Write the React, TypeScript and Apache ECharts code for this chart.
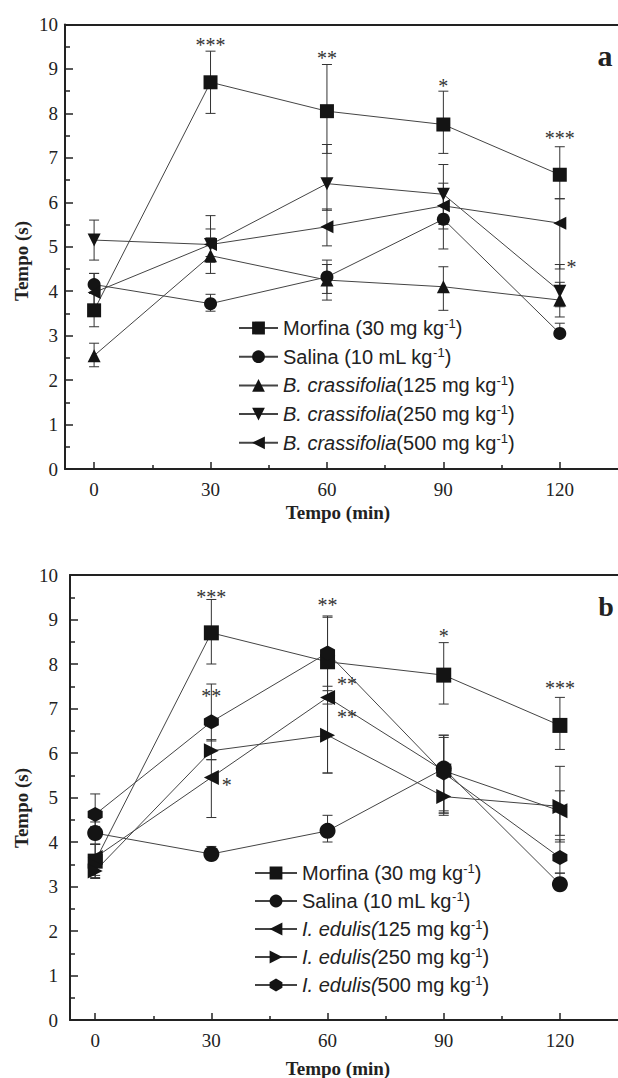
import React, { useEffect, useRef } from 'react';
import * as echarts from 'echarts';

// ---- data ----
const times = [0, 30, 60, 90, 120];
const xTickValues = [0, 30, 60, 90, 120];
const xMinorValues = [15, 45, 75, 105];

// Panel a (B. crassifolia)
const aMorfina = [3.57, 8.7, 8.05, 7.75, 6.62];
const aMorfinaLo = [3.2, 8.0, 7.1, 7.1, 6.08];
const aMorfinaHi = [3.95, 9.4, 9.1, 8.5, 7.25];
const aSalina = [4.15, 3.72, 4.32, 5.62, 3.05];
const aSalinaLo = [3.95, 3.55, 3.8, 4.95, 3.05];
const aSalinaHi = [4.4, 3.93, 4.7, 6.3, 3.28];
const aB125 = [2.55, 4.8, 4.25, 4.1, 3.8];
const aB125Lo = [2.3, 4.4, 3.95, 3.57, 3.42];
const aB125Hi = [2.83, 5.2, 4.6, 4.55, 4.2];
const aB250 = [5.15, 5.05, 6.42, 6.18, 4.0];
const aB250Lo = [4.7, 4.65, 5.82, 5.4, 3.65];
const aB250Hi = [5.6, 5.7, 7.3, 6.85, 4.6];
const aB500 = [3.97, 5.05, 5.45, 5.92, 5.53];
const aB500Lo = [3.7, 4.78, 5.02, 5.5, 4.5];
const aB500Hi = [4.4, 5.4, 5.85, 6.43, 6.08];

// Panel b (I. edulis)
const bMorfina = [3.57, 8.7, 8.05, 7.75, 6.62];
const bMorfinaLo = [3.2, 8.0, 7.1, 7.1, 6.08];
const bMorfinaHi = [3.95, 9.45, 9.08, 8.48, 7.25];
const bSalina = [4.2, 3.73, 4.25, 5.65, 3.05];
const bSalinaLo = [3.95, 3.6, 4.0, 4.65, 3.05];
const bSalinaHi = [4.45, 3.9, 4.6, 6.4, 3.3];
const bI125 = [3.65, 5.45, 7.25, 5.6, 4.7];
const bI125Lo = [3.25, 4.55, 5.55, 4.65, 4.0];
const bI125Hi = [3.95, 5.85, 8.1, 6.35, 5.15];
const bI250 = [3.35, 6.05, 6.4, 5.02, 4.8];
const bI250Lo = [3.18, 5.85, 5.55, 4.6, 4.15];
const bI250Hi = [3.6, 6.3, 7.5, 5.6, 5.7];
const bI500 = [4.62, 6.7, 8.25, 5.55, 3.65];
const bI500Lo = [4.35, 6.27, 7.4, 4.7, 3.3];
const bI500Hi = [5.08, 7.55, 9.05, 6.4, 4.05];

// significance marks [time, value]
const sigAPos = [[30, 9.55], [60, 9.25], [90, 8.62], [120, 7.45], [123, 4.55]];
const sigAText = ['***', '**', '*', '***', '*'];
const sigBPos = [[30, 9.5], [60, 9.33], [90, 8.62], [120, 7.45], [30, 7.27], [34, 5.28], [65, 7.55], [65, 6.8]];
const sigBText = ['***', '**', '*', '***', '**', '*', '**', '**'];

// legend labels
const legendA = [
  { it: '', rest: 'Morfina (30 mg kg' },
  { it: '', rest: 'Salina (10 mL kg' },
  { it: 'B. crassifolia', rest: '(125 mg kg' },
  { it: 'B. crassifolia', rest: '(250 mg kg' },
  { it: 'B. crassifolia', rest: '(500 mg kg' },
];
const legendB = [
  { it: '', rest: 'Morfina (30 mg kg' },
  { it: '', rest: 'Salina (10 mL kg' },
  { it: 'I. edulis(', rest: '125 mg kg' },
  { it: 'I. edulis(', rest: '250 mg kg' },
  { it: 'I. edulis(', rest: '500 mg kg' },
];

const SYM_TRI_DOWN = 'path://M0,0L10,0L5,10Z';
const SYM_TRI_LEFT = 'path://M10,0L10,10L0,5Z';
const SYM_TRI_RIGHT = 'path://M0,0L0,10L10,5Z';
const SYM_HEX = 'path://M5,0L10,2.8L10,7.2L5,10L0,7.2L0,2.8Z';

const labelName = (l: { it: string; rest: string }) => l.it + l.rest + '-1)';

function lineSeries(name: string, vals: number[], symbol: string, size: number, xi: number, yi: number) {
  return {
    type: 'line',
    name,
    xAxisIndex: xi,
    yAxisIndex: yi,
    data: times.map((t, i) => [t, vals[i]]),
    symbol,
    symbolSize: size,
    showSymbol: true,
    lineStyle: { color: '#444', width: 1 },
    itemStyle: { color: '#141414' },
    z: 4,
    silent: true,
  };
}

function errSeries(lo: number[], hi: number[], xi: number, yi: number) {
  return {
    type: 'custom',
    xAxisIndex: xi,
    yAxisIndex: yi,
    data: times.map((t, i) => [t, lo[i], hi[i]]),
    silent: true,
    z: 2,
    renderItem: (params: any, api: any) => {
      const x = api.value(0);
      const pl = api.coord([x, api.value(1)]);
      const ph = api.coord([x, api.value(2)]);
      const w = 5;
      const st = { stroke: '#333', lineWidth: 1 };
      return {
        type: 'group',
        children: [
          { type: 'line', shape: { x1: pl[0], y1: pl[1], x2: ph[0], y2: ph[1] }, style: st },
          { type: 'line', shape: { x1: ph[0] - w, y1: ph[1], x2: ph[0] + w, y2: ph[1] }, style: st },
          { type: 'line', shape: { x1: pl[0] - w, y1: pl[1], x2: pl[0] + w, y2: pl[1] }, style: st },
        ],
      };
    },
  };
}

function sigSeries(pos: number[][], texts: string[], xi: number, yi: number) {
  return {
    type: 'custom',
    xAxisIndex: xi,
    yAxisIndex: yi,
    data: pos,
    silent: true,
    z: 5,
    renderItem: (params: any, api: any) => {
      const p = api.coord([api.value(0), api.value(1)]);
      return {
        type: 'text',
        x: p[0],
        y: p[1],
        style: {
          text: texts[params.dataIndex],
          fontSize: 20,
          fontFamily: '"Liberation Serif", serif',
          fill: '#333',
          align: 'center',
          verticalAlign: 'middle',
          textAlign: 'center',
          textVerticalAlign: 'middle',
        },
      };
    },
  };
}

const rich = {
  n: { fontSize: 20, fontFamily: '"Liberation Sans", Arial, sans-serif', color: '#222', lineHeight: 22 },
  i: { fontSize: 20, fontStyle: 'italic', fontFamily: '"Liberation Sans", Arial, sans-serif', color: '#222', lineHeight: 22 },
  s: { fontSize: 13, fontFamily: '"Liberation Sans", Arial, sans-serif', color: '#222', lineHeight: 22, verticalAlign: 'top' },
};

function makeFormatter(list: { it: string; rest: string }[]) {
  return (name: string) => {
    const l = list.find((x) => labelName(x) === name.trim());
    if (!l) return name;
    return (l.it ? `{i|${l.it}}` : '') + `{n|${l.rest}}{s|-1}{n|)}`;
  };
}

function xAxes(gridIndex: number, min: number) {
  const common = { type: 'value', gridIndex, min, max: 135 };
  return [
    {
      ...common,
      position: 'bottom',
      axisLine: { show: true, onZero: false, lineStyle: { color: '#222', width: 2 } },
      axisTick: { show: true, inside: true, length: 7, customValues: xTickValues, lineStyle: { color: '#222', width: 1.5 } },
      axisLabel: {
        show: true,
        customValues: xTickValues,
        fontFamily: '"Liberation Serif", serif',
        fontSize: 19,
        color: '#222',
        margin: 11,
      },
      splitLine: { show: false },
    },
    {
      ...common,
      position: 'bottom',
      axisLine: { show: false },
      axisTick: { show: true, inside: true, length: 4, customValues: xMinorValues, lineStyle: { color: '#222', width: 1.5 } },
      axisLabel: { show: false },
      splitLine: { show: false },
    },
    {
      ...common,
      position: 'top',
      axisLine: { show: true, onZero: false, lineStyle: { color: '#222', width: 2 } },
      axisTick: { show: false },
      axisLabel: { show: false },
      splitLine: { show: false },
    },
  ];
}

function yAxis(gridIndex: number, margin: number) {
  return {
    type: 'value',
    gridIndex,
    min: 0,
    max: 10,
    interval: 1,
    axisLine: { show: true, onZero: false, lineStyle: { color: '#222', width: 2 } },
    axisTick: { show: true, inside: true, length: 8, lineStyle: { color: '#222', width: 1.5 } },
    minorTick: { show: true, splitNumber: 2, length: 5, lineStyle: { color: '#222', width: 1.5 } },
    axisLabel: { fontFamily: '"Liberation Serif", serif', fontSize: 19, color: '#222', margin },
    splitLine: { show: false },
    minorSplitLine: { show: false },
  };
}

const serifBold = 'bold 19px "Liberation Serif", serif';

export default function App() {
  const ref = useRef<HTMLDivElement>(null);
  useEffect(() => {
    if (!ref.current) return;
    const chart = echarts.init(ref.current, undefined, { renderer: 'svg' });
    const namesA = legendA.map(labelName);
    const namesB = legendB.map(labelName);
    const option = {
      animation: false,
      backgroundColor: '#fff',
      grid: [
        { left: 65, right: 0, top: 24.5, height: 444.5 },
        { left: 70, right: 0, top: 575, height: 445 },
      ],
      xAxis: [...xAxes(0, -7.5), ...xAxes(1, -6.5)],
      yAxis: [yAxis(0, 7), yAxis(1, 12)],
      legend: [
        {
          data: namesA,
          orient: 'vertical',
          left: 233,
          top: 312,
          itemWidth: 39,
          itemHeight: 16,
          itemGap: 7.7,
          formatter: makeFormatter(legendA),
          textStyle: { rich },
          selectedMode: false,
        },
        {
          data: namesB,
          orient: 'vertical',
          left: 249,
          top: 857,
          itemWidth: 42,
          itemHeight: 16,
          itemGap: 7,
          formatter: makeFormatter(legendB),
          textStyle: { rich },
          selectedMode: false,
        },
      ],
      graphic: [
        { type: 'text', x: 21, y: 261, rotation: Math.PI / 2, style: { text: 'Tempo (s)', font: serifBold, fill: '#222', textAlign: 'center', textVerticalAlign: 'middle', align: 'center', verticalAlign: 'middle' } },
        { type: 'text', x: 21, y: 808, rotation: Math.PI / 2, style: { text: 'Tempo (s)', font: serifBold, fill: '#222', textAlign: 'center', textVerticalAlign: 'middle', align: 'center', verticalAlign: 'middle' } },
        { type: 'text', x: 338, y: 512, style: { text: 'Tempo (min)', font: serifBold, fill: '#222', textAlign: 'center', textVerticalAlign: 'middle', align: 'center', verticalAlign: 'middle' } },
        { type: 'text', x: 338, y: 1068, style: { text: 'Tempo (min)', font: serifBold, fill: '#222', textAlign: 'center', textVerticalAlign: 'middle', align: 'center', verticalAlign: 'middle' } },
        { type: 'text', x: 605, y: 55, style: { text: 'a', font: 'bold 30px "Liberation Serif", serif', fill: '#222', textAlign: 'center', textVerticalAlign: 'middle', align: 'center', verticalAlign: 'middle' } },
        { type: 'text', x: 606, y: 606, style: { text: 'b', font: 'bold 28px "Liberation Serif", serif', fill: '#222', textAlign: 'center', textVerticalAlign: 'middle', align: 'center', verticalAlign: 'middle' } },
      ],
      series: [
        errSeries(aMorfinaLo, aMorfinaHi, 0, 0),
        errSeries(aSalinaLo, aSalinaHi, 0, 0),
        errSeries(aB125Lo, aB125Hi, 0, 0),
        errSeries(aB250Lo, aB250Hi, 0, 0),
        errSeries(aB500Lo, aB500Hi, 0, 0),
        lineSeries(namesA[0], aMorfina, 'rect', 14, 0, 0),
        lineSeries(namesA[1], aSalina, 'circle', 13, 0, 0),
        lineSeries(namesA[2], aB125, 'triangle', 13, 0, 0),
        lineSeries(namesA[3], aB250, SYM_TRI_DOWN, 13, 0, 0),
        lineSeries(namesA[4], aB500, SYM_TRI_LEFT, 13, 0, 0),
        sigSeries(sigAPos, sigAText, 0, 0),

        errSeries(bMorfinaLo, bMorfinaHi, 3, 1),
        errSeries(bSalinaLo, bSalinaHi, 3, 1),
        errSeries(bI125Lo, bI125Hi, 3, 1),
        errSeries(bI250Lo, bI250Hi, 3, 1),
        errSeries(bI500Lo, bI500Hi, 3, 1),
        lineSeries(namesB[0], bMorfina, 'rect', 15, 3, 1),
        lineSeries(namesB[1], bSalina, 'circle', 16, 3, 1),
        lineSeries(namesB[2], bI125, SYM_TRI_LEFT, 15, 3, 1),
        lineSeries(namesB[3], bI250, SYM_TRI_RIGHT, 15, 3, 1),
        lineSeries(namesB[4], bI500, SYM_HEX, 15, 3, 1),
        sigSeries(sigBPos, sigBText, 3, 1),
      ],
    };
    chart.setOption(option as any);
    return () => chart.dispose();
  }, []);
  return <div ref={ref} style={{ position: 'absolute', left: 0, top: 0, width: 618, height: 1078 }} />;
}
